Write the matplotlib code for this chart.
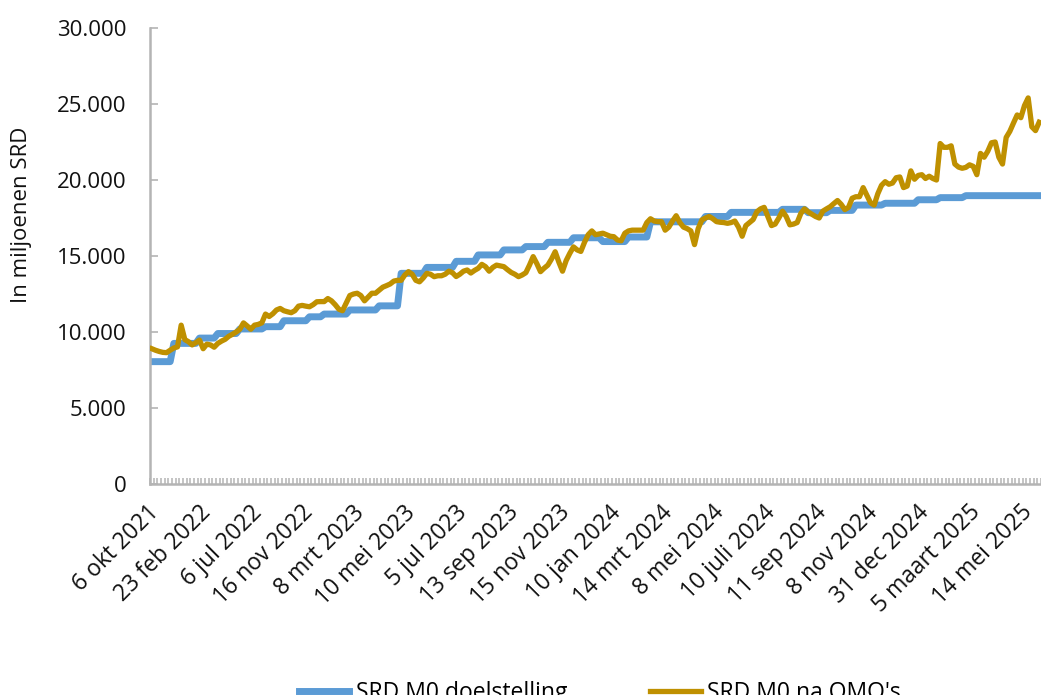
"""
SRD M0: doelstelling versus stand na OMO's (weekly, okt 2021 - mei 2025).
"""

import numpy as np
import matplotlib.pyplot as plt
from matplotlib.ticker import FuncFormatter
from matplotlib.transforms import ScaledTranslation

# x-axis labels (one every 14 observations)
tick_labels = ['6 okt 2021', '23 feb 2022', '6 jul 2022', '16 nov 2022', '8 mrt 2023',
               '10 mei 2023', '5 jul 2023', '13 sep 2023', '15 nov 2023', '10 jan 2024',
               '14 mrt 2024', '8 mei 2024', '10 juli 2024', '11 sep 2024', '8 nov 2024',
               '31 dec 2024', '5 maart 2025', '14 mei 2025']
label_step = 14

# SRD M0 doelstelling: step levels (mln SRD) and how many observations each lasts
target_levels = [8050, 9250, 9600, 9900, 10200, 10350, 10740, 11000, 11180, 11450,
                 11720, 13860, 14250, 14650, 15070, 15400, 15620, 15900, 16200, 15950,
                 16250, 17250, 17600, 17870, 18070, 17850, 18000, 18350, 18470, 18700,
                 18840, 18970]
target_counts = [6, 7, 5, 6, 7, 5, 7, 4, 7, 8,
                 6, 7, 8, 6, 7, 6, 6, 7, 8, 7,
                 6, 15, 7, 14, 7, 6, 7, 8, 9, 6,
                 7, 21]

# SRD M0 na OMO's (mln SRD)
m0_after_omo = [
    8900, 8800, 8720, 8660, 8640, 8800, 8950, 9020, 10450, 9500,
    9360, 9150, 9300, 9470, 8900, 9200, 9150, 9000, 9250, 9400,
    9520, 9720, 9850, 10000, 10180, 10600, 10400, 10180, 10450, 10500,
    10600, 11180, 11020, 11200, 11450, 11550, 11400, 11330, 11270, 11400,
    11700, 11750, 11700, 11660, 11800, 11990, 12000, 12000, 12200, 12050,
    11800, 11500, 11400, 11900, 12400, 12500, 12550, 12400, 12050, 12300,
    12550, 12550, 12750, 12950, 13050, 13160, 13350, 13400, 13400, 13750,
    13970, 13800, 13400, 13300, 13550, 13860, 13800, 13640, 13700, 13700,
    13800, 14000, 13900, 13650, 13800, 14000, 14080, 13880, 14050, 14190,
    14450, 14300, 14000, 14250, 14400, 14350, 14300, 14100, 13920, 13800,
    13640, 13750, 13900, 14400, 14960, 14500, 13970, 14200, 14400, 14800,
    15280, 14600, 14000, 14700, 15180, 15600, 15400, 15300, 15900, 16400,
    16650, 16400, 16450, 16500, 16400, 16300, 16270, 16050, 16000, 16500,
    16650, 16700, 16700, 16700, 16700, 17200, 17450, 17300, 17260, 17260,
    16700, 16900, 17300, 17650, 17200, 16900, 16800, 16650, 15750, 16800,
    17370, 17500, 17600, 17450, 17260, 17220, 17200, 17150, 17200, 17300,
    16900, 16300, 17000, 17200, 17400, 17910, 18100, 18200, 17600, 17000,
    17100, 17500, 17950, 17600, 17050, 17100, 17200, 17800, 18100, 17900,
    17750, 17600, 17500, 17950, 18100, 18240, 18450, 18650, 18400, 18050,
    18200, 18800, 18900, 18900, 19500, 19000, 18500, 18350, 19100, 19650,
    19890, 19720, 19800, 20150, 20200, 19500, 19600, 20600, 20050, 20300,
    20350, 20100, 20250, 20100, 20000, 22400, 22150, 22150, 22250, 21050,
    20850, 20770, 20830, 21000, 20900, 20350, 21750, 21500, 21900, 22450,
    22500, 21500, 21050, 22800, 23200, 23750, 24280, 24100, 24900, 25400,
    23500, 23250, 23800,
]

target = np.repeat(target_levels, target_counts)
gold = np.array(m0_after_omo)
x = np.arange(len(gold))

plt.rcParams['font.family'] = ['Open Sans', 'DejaVu Sans']

BLUE = '#5B9BD5'
GOLD = '#BF9000'
GREY = '#B4B4B4'

fig = plt.figure(figsize=(10.41, 6.95), dpi=100)
ax = fig.add_axes([150 / 1041, 1 - 484 / 695, 1 - 150 / 1041, (484 - 28) / 695])

ax.plot(x, target, color=BLUE, lw=5.0, solid_joinstyle='round', label='SRD M0 doelstelling', zorder=2)
ax.plot(x, gold, color=GOLD, lw=3.8, solid_joinstyle='round', label="SRD M0 na OMO's", zorder=3)

ax.set_xlim(-0.5, len(gold) - 0.5)
ax.set_ylim(0, 30000)
ax.set_yticks(np.arange(0, 30001, 5000))
ax.yaxis.set_major_formatter(FuncFormatter(lambda v, p: f'{int(v):,}'.replace(',', '.')))

for s in ['top', 'right']:
    ax.spines[s].set_visible(False)
for s in ['left', 'bottom']:
    ax.spines[s].set_color(GREY)
    ax.spines[s].set_linewidth(1.8)

ax.tick_params(axis='y', direction='in', length=6, width=1.2, color=GREY,
               labelsize=16, pad=17, labelcolor='#111111')

# category boundaries as small inward ticks, labels every 14 observations
ax.set_xticks(np.arange(-0.5, len(gold), 1), minor=True)
ax.set_xticks(np.arange(0, len(gold), label_step))
ax.set_xticklabels(tick_labels, rotation=45, ha='right', va='center', rotation_mode='anchor')
ax.tick_params(axis='x', which='minor', direction='in', length=4, width=1.1, color=GREY)
ax.tick_params(axis='x', which='major', length=0, labelsize=16.5, pad=18, labelcolor='#111111')
shift = ScaledTranslation(4 / 100, 0, fig.dpi_scale_trans)
for lab in ax.get_xticklabels():
    lab.set_transform(lab.get_transform() + shift)

fig.text(22 / 1041, 1 - 215 / 695, 'In miljoenen SRD', rotation=90, ha='center', va='center',
         fontsize=16, color='#111111')

fig.legend(loc='center', bbox_to_anchor=(600 / 1041, 1 - 693 / 695), ncol=2, frameon=False,
           fontsize=16.5, handlelength=2.2, handletextpad=0.3, columnspacing=3.6)

fig.savefig('out.png', dpi=100)
